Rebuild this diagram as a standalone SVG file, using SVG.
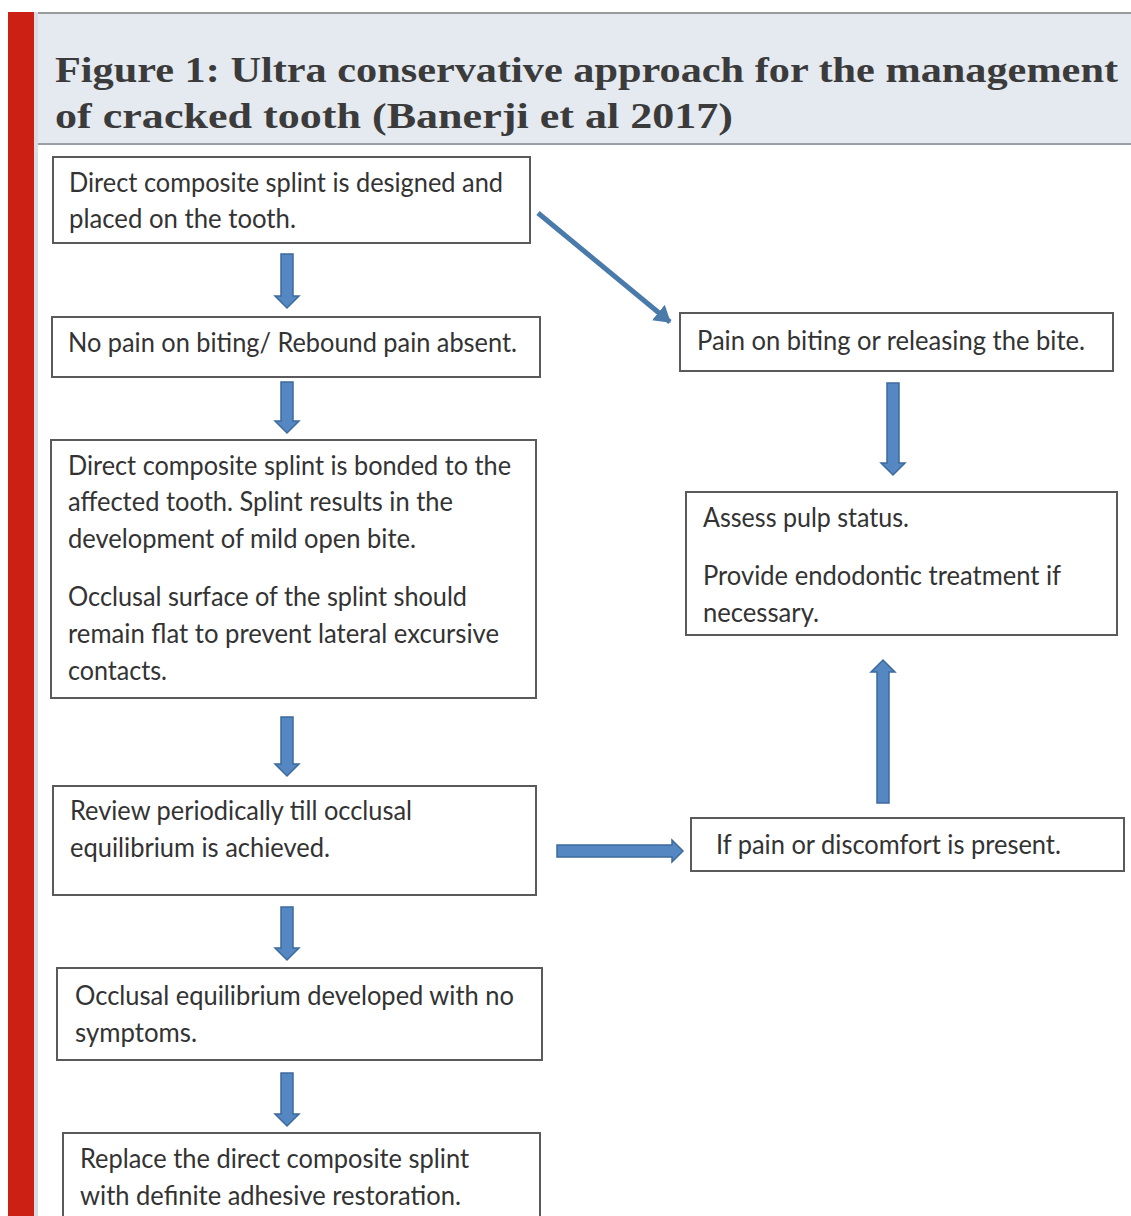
<svg xmlns="http://www.w3.org/2000/svg" width="1131" height="1216" viewBox="0 0 1131 1216">
<style>
.box{fill:#fff;stroke:#5a5a5a;stroke-width:2}
.t{font-family:Lato,"Open Sans","Liberation Sans",sans-serif;font-size:26px;fill:#333}
.title{font-family:"Liberation Serif","DejaVu Serif",serif;font-size:36px;font-weight:bold;fill:#3b3b3b}
.arr{fill:#5588c2;stroke:#3d6a9c;stroke-width:1.5}
</style>
<defs>
<marker id="ah" markerWidth="6" markerHeight="6" refX="3" refY="3" orient="auto" markerUnits="strokeWidth">
<path d="M0,1 L3.2,3 L0,5 Z" fill="#4a7aaa"/>
</marker>
</defs>
<rect x="0" y="0" width="1131" height="1216" fill="#fff"/>
<rect x="8" y="12" width="26" height="1204" fill="#cc2014"/>
<rect x="34" y="12" width="4" height="1204" fill="#d9dde2"/>
<g id="header">
<rect x="38" y="12" width="1093" height="132" fill="#e5eaf0"/>
<line x1="38" y1="13" x2="1131" y2="13" stroke="#9a9a9a" stroke-width="2"/>
<line x1="38" y1="144" x2="1131" y2="144" stroke="#9a9fa5" stroke-width="2"/>
<text class="title" x="55" y="82" textLength="1063" lengthAdjust="spacingAndGlyphs">Figure 1: Ultra conservative approach for the management</text>
<text class="title" x="55" y="128" textLength="678" lengthAdjust="spacingAndGlyphs">of cracked tooth (Banerji et al 2017)</text>
</g>
<g lengthAdjust="spacingAndGlyphs">
<g id="n1"><rect class="box" x="53" y="157" width="477" height="86"/>
<text class="t" x="69" y="192" textLength="434" lengthAdjust="spacingAndGlyphs">Direct composite splint is designed and</text>
<text class="t" x="69" y="228" textLength="227" lengthAdjust="spacingAndGlyphs">placed on the tooth.</text></g>
<g id="n2"><rect class="box" x="52" y="317" width="488" height="60"/>
<text class="t" x="68" y="352" textLength="449" lengthAdjust="spacingAndGlyphs">No pain on biting/ Rebound pain absent.</text></g>
<g id="n3"><rect class="box" x="51" y="440" width="485" height="258"/>
<text class="t" x="68" y="475" textLength="443" lengthAdjust="spacingAndGlyphs">Direct composite splint is bonded to the</text>
<text class="t" x="68" y="511" textLength="385" lengthAdjust="spacingAndGlyphs">affected tooth. Splint results in the</text>
<text class="t" x="68" y="548" textLength="348" lengthAdjust="spacingAndGlyphs">development of mild open bite.</text>
<text class="t" x="68" y="606" textLength="399" lengthAdjust="spacingAndGlyphs">Occlusal surface of the splint should</text>
<text class="t" x="68" y="643" textLength="431" lengthAdjust="spacingAndGlyphs">remain flat to prevent lateral excursive</text>
<text class="t" x="68" y="680" textLength="99" lengthAdjust="spacingAndGlyphs">contacts.</text></g>
<g id="n4"><rect class="box" x="53" y="786" width="483" height="109"/>
<text class="t" x="70" y="820" textLength="342" lengthAdjust="spacingAndGlyphs">Review periodically till occlusal</text>
<text class="t" x="70" y="857" textLength="260" lengthAdjust="spacingAndGlyphs">equilibrium is achieved.</text></g>
<g id="n5"><rect class="box" x="57" y="968" width="485" height="92"/>
<text class="t" x="75" y="1005" textLength="439" lengthAdjust="spacingAndGlyphs">Occlusal equilibrium developed with no</text>
<text class="t" x="75" y="1042" textLength="122" lengthAdjust="spacingAndGlyphs">symptoms.</text></g>
<g id="n6"><rect class="box" x="63" y="1133" width="477" height="100"/>
<text class="t" x="80" y="1168" textLength="389" lengthAdjust="spacingAndGlyphs">Replace the direct composite splint</text>
<text class="t" x="80" y="1205" textLength="381" lengthAdjust="spacingAndGlyphs">with definite adhesive restoration.</text></g>
<g id="n7"><rect class="box" x="680" y="313" width="433" height="58"/>
<text class="t" x="697" y="350" textLength="388" lengthAdjust="spacingAndGlyphs">Pain on biting or releasing the bite.</text></g>
<g id="n8"><rect class="box" x="686" y="492" width="431" height="143"/>
<text class="t" x="703" y="527" textLength="206" lengthAdjust="spacingAndGlyphs">Assess pulp status.</text>
<text class="t" x="703" y="585" textLength="358" lengthAdjust="spacingAndGlyphs">Provide endodontic treatment if</text>
<text class="t" x="703" y="622" textLength="116" lengthAdjust="spacingAndGlyphs">necessary.</text></g>
<g id="n9"><rect class="box" x="691" y="818" width="433" height="53"/>
<text class="t" x="716" y="854" textLength="345" lengthAdjust="spacingAndGlyphs">If pain or discomfort is present.</text></g>
</g>
<g id="connectors">
<path class="arr" d="M281,254 H293 V296 H299 L287,308 L275,296 H281 Z"/>
<path class="arr" d="M281,382 H293 V421 H299 L287,433 L275,421 H281 Z"/>
<path class="arr" d="M281,717 H293 V764 H299 L287,776 L275,764 H281 Z"/>
<path class="arr" d="M281,907 H293 V948 H299 L287,960 L275,948 H281 Z"/>
<path class="arr" d="M281,1073 H293 V1114 H299 L287,1126 L275,1114 H281 Z"/>
<path class="arr" d="M887,383 H899 V463 H905 L893,475 L881,463 H887 Z"/>
<path class="arr" d="M877,803 H889 V672 H895 L883,660 L871,672 H877 Z"/>
<path class="arr" d="M557,845 H672 V840 L683,851 L672,862 V857 H557 Z"/>
<line x1="538" y1="213" x2="670" y2="322" stroke="#4a7aaa" stroke-width="5" marker-end="url(#ah)"/>
</g>
</svg>
